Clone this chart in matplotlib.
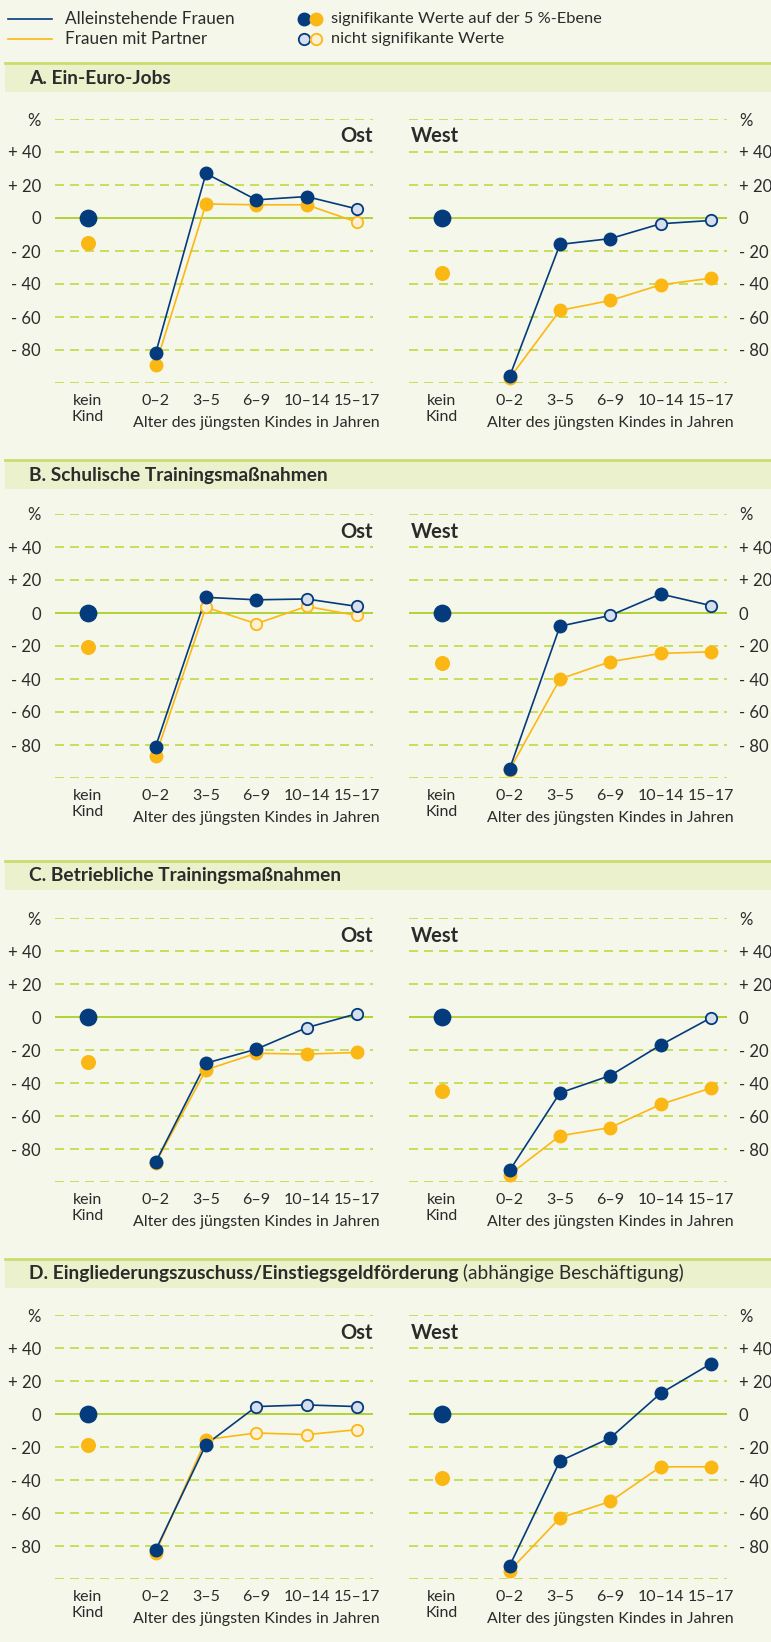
import numpy as np
import matplotlib
matplotlib.use('Agg')
import matplotlib.pyplot as plt
from matplotlib.patches import Rectangle

plt.rcParams['font.family'] = ['Lato', 'DejaVu Sans']
plt.rcParams['lines.scale_dashes'] = False

# --- data ---
categories = ['kein\nKind', '0–2', '3–5', '6–9', '10–14', '15–17']
x_title = 'Alter des jüngsten Kindes in Jahren'
y_ticks = [60, 40, 20, 0, -20, -40, -60, -80]
y_ticklabels = ['%', '+ 40', '+ 20', '0', '- 20', '- 40', '- 60', '- 80']

titles = ['A. Ein-Euro-Jobs',
          'B. Schulische Trainingsmaßnahmen',
          'C. Betriebliche Trainingsmaßnahmen',
          'D. Eingliederungszuschuss/Einstiegsgeldförderung']
title_suffix = ['', '', '', ' (abhängige Beschäftigung)']

# A. Ein-Euro-Jobs
a_ost_allein = [0, -82, 27, 11, 13, 5.5]
a_ost_partner = [-15, -89, 8.5, 8, 8, -2.5]
a_west_allein = [0, -96, -16, -12.5, -3.5, -1.5]
a_west_partner = [-33.5, -97, -56, -50, -40.5, -36.5]
a_ost_allein_sig = [1, 1, 1, 1, 1, 0]
a_ost_partner_sig = [1, 1, 1, 1, 1, 0]
a_west_allein_sig = [1, 1, 1, 1, 0, 0]
a_west_partner_sig = [1, 1, 1, 1, 1, 1]

# B. Schulische Trainingsmassnahmen
b_ost_allein = [0, -81, 9.5, 8, 8.5, 4]
b_ost_partner = [-20.5, -86.5, 3.5, -6.5, 4, -1.5]
b_west_allein = [0, -94.5, -8, -1.5, 11.5, 4.5]
b_west_partner = [-30.5, -95, -40, -29.5, -24.5, -23.5]
b_ost_allein_sig = [1, 1, 1, 1, 0, 0]
b_ost_partner_sig = [1, 1, 0, 0, 0, 0]
b_west_allein_sig = [1, 1, 1, 0, 1, 0]
b_west_partner_sig = [1, 1, 1, 1, 1, 1]

# C. Betriebliche Trainingsmassnahmen
c_ost_allein = [0, -88, -28, -19.5, -6.5, 2]
c_ost_partner = [-27.5, -88.5, -32, -22, -22.5, -21.5]
c_west_allein = [0, -93, -46, -35.5, -17, -0.5]
c_west_partner = [-45, -95.5, -72, -67, -53, -43]
c_ost_allein_sig = [1, 1, 1, 1, 0, 0]
c_ost_partner_sig = [1, 1, 1, 1, 1, 1]
c_west_allein_sig = [1, 1, 1, 1, 1, 0]
c_west_partner_sig = [1, 1, 1, 1, 1, 1]

# D. Eingliederungszuschuss/Einstiegsgeld
d_ost_allein = [0, -82.5, -18.5, 4.5, 5.5, 4.5]
d_ost_partner = [-19, -84, -15.5, -11.5, -12.5, -9.5]
d_west_allein = [0, -92, -28.5, -14.5, 12.5, 30.5]
d_west_partner = [-39, -95, -63, -53, -32, -32]
d_ost_allein_sig = [1, 1, 1, 0, 0, 0]
d_ost_partner_sig = [1, 1, 1, 0, 0, 0]
d_west_allein_sig = [1, 1, 1, 1, 1, 1]
d_west_partner_sig = [1, 1, 1, 1, 1, 1]

#colours
BG = '#f5f7ea'
BAND = '#ebf1cd'
BAND_LINE = '#c8de6e'
GRID = '#c6dc4e'
ZERO = '#b1d235'
BLUE = '#033b7c'
ORANGE = '#fbb814'
BLUE_LIGHT = '#d7dfef'
ORANGE_LIGHT = '#fdf0d4'
TEXT = '#2b2b2b'

W, H = 771, 1642
fig = plt.figure(figsize=(W / 100, H / 100), dpi=100)
fig.patch.set_facecolor(BG)

# background axes in pixel coords
bg = fig.add_axes([0, 0, 1, 1])
bg.set_xlim(0, W)
bg.set_ylim(H, 0)
bg.axis('off')
bg.set_zorder(-1)


def px_axes(x, y, w, h):
    return fig.add_axes([x / W, 1 - (y + h) / H, w / W, h / H])


def draw_series(ax, xs, vals, sig, color, light, big, z):
    ax.plot(xs[1:], vals[1:], color=color, lw=1.2, zorder=z, clip_on=False)
    for i in range(len(vals)):
        if sig[i]:
            ms = big if i == 0 else 9
            ax.plot(xs[i], vals[i], 'o', ms=ms, color=color, mec=color,
                    zorder=z + 2, clip_on=False)
        else:
            ax.plot(xs[i], vals[i], 'o', ms=8.2, mfc=light, mec=color, mew=1.3,
                    zorder=z + 2, clip_on=False)


def draw_panel(ax, allein, partner, allein_sig, partner_sig, side):
    xs = np.array([0, 1.35, 2.35, 3.35, 4.35, 5.35])
    ax.set_xlim(-0.65, 5.67)
    ax.set_ylim(-100, 60)
    ax.patch.set_alpha(0)
    for s in ax.spines.values():
        s.set_visible(False)
    for v in [60, 40, 20, -20, -40, -60, -80, -100]:
        ax.axhline(v, color=GRID, lw=1.3, dashes=(6.5, 4.3), zorder=1)
    ax.axhline(0, color=ZERO, lw=1.4, zorder=1)

    draw_series(ax, xs, partner, partner_sig, ORANGE, ORANGE_LIGHT, 9.8, 2)
    draw_series(ax, xs, allein, allein_sig, BLUE, BLUE_LIGHT, 11.8, 3)

    ax.set_xticks(xs)
    ax.set_xticklabels(categories, fontsize=11.5, color=TEXT, linespacing=1.15)
    ax.set_yticks(y_ticks)
    ax.set_yticklabels(y_ticklabels, fontsize=12, color=TEXT)
    ax.tick_params(axis='x', length=0, pad=8)
    if side == 'Ost':
        ax.tick_params(axis='y', length=0, pad=10)
        ax.text(1, 1 - 17.5 / 264, 'Ost', transform=ax.transAxes, ha='right',
                va='center', fontsize=14.5, fontweight='bold', color=TEXT)
    else:
        ax.yaxis.tick_right()
        ax.tick_params(axis='y', length=0, pad=8.5)
        ax.text(0.005, 1 - 17.5 / 264, 'West', transform=ax.transAxes, ha='left',
                va='center', fontsize=14.5, fontweight='bold', color=TEXT)
    ax.text(xs[3], -39.7 / 264, x_title, transform=ax.get_xaxis_transform(),
            ha='center', va='center', fontsize=11.5, color=TEXT)


panels = [
    (a_ost_allein, a_ost_partner, a_ost_allein_sig, a_ost_partner_sig,
     a_west_allein, a_west_partner, a_west_allein_sig, a_west_partner_sig),
    (b_ost_allein, b_ost_partner, b_ost_allein_sig, b_ost_partner_sig,
     b_west_allein, b_west_partner, b_west_allein_sig, b_west_partner_sig),
    (c_ost_allein, c_ost_partner, c_ost_allein_sig, c_ost_partner_sig,
     c_west_allein, c_west_partner, c_west_allein_sig, c_west_partner_sig),
    (d_ost_allein, d_ost_partner, d_ost_allein_sig, d_ost_partner_sig,
     d_west_allein, d_west_partner, d_west_allein_sig, d_west_partner_sig),
]
header_tops = [63, 460, 861, 1259]
grid_tops = [119, 514, 918, 1315]

for k in range(4):
    h = header_tops[k]
    bg.add_patch(Rectangle((5, h), W - 5, 29, color=BAND, lw=0))
    bg.plot([5, W], [h, h], color=BAND_LINE, lw=2)
    t = bg.text(29, h + 15, titles[k], fontsize=13.8, fontweight='bold',
                color=TEXT, va='center')
    if title_suffix[k]:
        bg.annotate(title_suffix[k], xy=(1, 0), xycoords=t, va='bottom',
                    fontsize=13.8, color=TEXT)

    p = panels[k]
    ax1 = px_axes(55, grid_tops[k], 318, 264)
    draw_panel(ax1, p[0], p[1], p[2], p[3], 'Ost')
    ax2 = px_axes(409, grid_tops[k], 318, 264)
    draw_panel(ax2, p[4], p[5], p[6], p[7], 'West')

# legend
bg.plot([8, 52], [19, 19], color=BLUE, lw=1.2)
bg.plot([8, 52], [39, 39], color=ORANGE, lw=1.2)
bg.text(65, 19, 'Alleinstehende Frauen', fontsize=12.3, color=TEXT, va='center')
bg.text(65, 39, 'Frauen mit Partner', fontsize=12.3, color=TEXT, va='center')
bg.plot(304, 19, 'o', ms=9, color=BLUE)
bg.plot(316, 19, 'o', ms=9, color=ORANGE)
bg.plot(304, 39, 'o', ms=8.2, mfc=BLUE_LIGHT, mec=BLUE, mew=1.3)
bg.plot(316, 39, 'o', ms=8.2, mfc=ORANGE_LIGHT, mec=ORANGE, mew=1.3)
bg.text(331, 19, 'signifikante Werte auf der 5 %-Ebene', fontsize=11.8, color=TEXT, va='center')
bg.text(331, 39, 'nicht signifikante Werte', fontsize=11.8, color=TEXT, va='center')

fig.savefig('out.png', dpi=100, facecolor=BG)
